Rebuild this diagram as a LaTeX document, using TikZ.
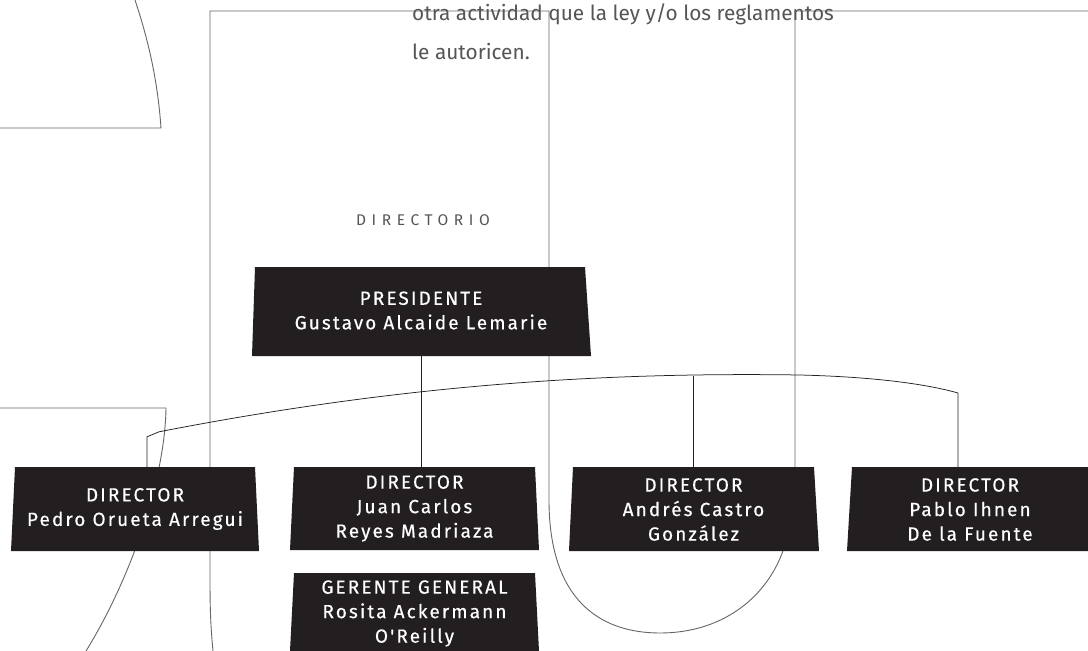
\documentclass[tikz,border=0pt]{standalone}
\usepackage{fontspec}
\setmainfont{Fira Sans}
\newfontfamily\boxfont[LetterSpace=11,FakeBold=0.4]{Fira Sans}
\newfontfamily\dirfont[LetterSpace=36]{Fira Sans}
\pgfdeclarelayer{bg}
\pgfdeclarelayer{mid}
\pgfsetlayers{bg,mid,main}
\definecolor{boxc}{HTML}{231F20}
\definecolor{linec}{HTML}{666666}
\definecolor{connc}{HTML}{222222}
\definecolor{txtc}{HTML}{555555}
\tikzset{
  deco/.style={draw=linec, line width=0.9pt},
  conn/.style={draw=connc, line width=0.75pt},
  boxfill/.style={fill=boxc},
  boxnode/.style={inner sep=0pt, align=center, text=white,
    font=\boxfont\fontsize{19}{24.5}\selectfont},
  toptext/.style={anchor=base west, inner sep=0pt, text=txtc,
    font=\fontsize{20.8}{22}\selectfont},
}
\begin{document}
\begin{tikzpicture}[x=1pt,y=-1pt]
\useasboundingbox (0,0) rectangle (1088,651);

% text
\node[toptext] (t1) at (412,20) {otra actividad que la ley y/o los reglamentos};
\node[toptext] (t2) at (412,59) {le autoricen.};
\node[inner sep=0pt, text=txtc, font=\dirfont\fontsize{15.5}{18}\selectfont] (dir) at (423,220) {DIRECTORIO};

% boxes (fills on mid layer)
\begin{pgfonlayer}{mid}
\fill[boxfill] (255,267) -- (585,267) -- (591,356) -- (252,356) -- cycle;
\fill[boxfill] (15,467) -- (255,467) -- (259,551) -- (11,551) -- cycle;
\fill[boxfill] (294,467) -- (535,467) -- (539,550) -- (290,550) -- cycle;
\fill[boxfill] (294,573) -- (535,573) -- (539,651) -- (290,651) -- cycle;
\fill[boxfill] (573,467) -- (814,467) -- (819,551) -- (569,551) -- cycle;
\fill[boxfill] (852,467) -- (1088,467) -- (1088,551) -- (847,551) -- cycle;
\end{pgfonlayer}

\node[boxnode, minimum width=330, minimum height=89] (pres) at (421,310.5) {PRESIDENTE\\Gustavo Alcaide Lemarie};
\node[boxnode, minimum width=240, minimum height=84] (pedro) at (135,509) {DIRECTOR\\Pedro Orueta Arregui};
\node[boxnode, minimum width=241, minimum height=83] (juan) at (414.5,508.5) {DIRECTOR\\Juan Carlos\\Reyes Madriaza};
\node[boxnode] (ger) at (414.5,613.5) {GERENTE GENERAL\\Rosita Ackermann\\O'Reilly};
\node[boxnode, minimum width=241, minimum height=84] (andres) at (693.5,509.5) {DIRECTOR\\Andrés Castro\\González};
\node[boxnode, minimum width=236, minimum height=84] (pablo) at (970,509.5) {DIRECTOR\\Pablo Ihnen\\De la Fuente};

\begin{pgfonlayer}{bg}
\fill[white] (0,0) rectangle (1088,651);
% decorative lines
\draw[deco] (0,128) -- (161,128) .. controls (158,85) and (150,45) .. (135,0);
\draw[deco] (0,408) -- (166,408) .. controls (165,480) and (130,580) .. (86,651);
\draw[deco] (213,651) .. controls (210,620) and (210,600) .. (210,570) -- (210,11) -- (549,11)
  -- (549,500) .. controls (549,600) and (600,633) .. (660,633)
  .. controls (720,633) and (765,600) .. (783,551)
  .. controls (792,525) and (795,500) .. (795,467) -- (795,11) -- (1088,11);
% connectors
\draw[conn] (pres.south) -- (pres.south |- juan.north);
\draw[conn] ([xshift=12]pedro.north) -- ++(0,-30) -- ++(12,-5)
  .. controls (400,385) and (600,372) .. (800,375)
  .. controls (880,377) and (930,385) .. (958,393) -- ([xshift=-12]pablo.north);
\draw[conn] (andres.north) -- ++(0,-91.5);
\end{pgfonlayer}
\end{tikzpicture}
\end{document}
